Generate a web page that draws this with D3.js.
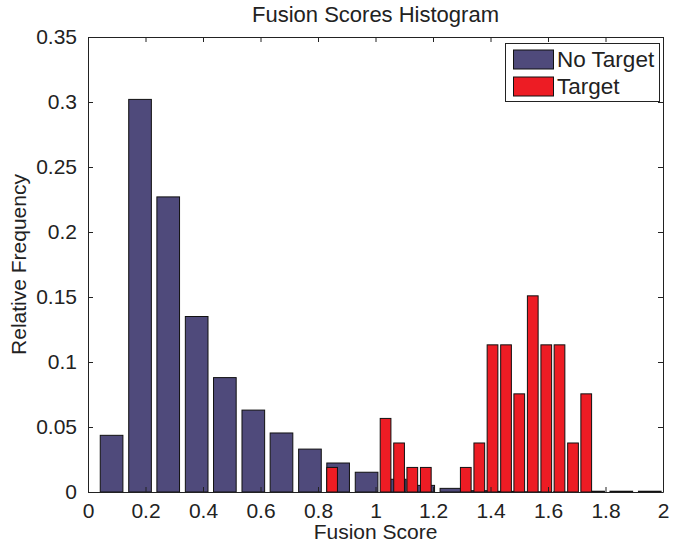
<!DOCTYPE html>
<html>
<head>
<meta charset="utf-8">
<script src="https://cdn.jsdelivr.net/npm/d3@7"></script>
<style>
body { margin: 0; background: #fff; }
text { font-family: "Liberation Sans", Arial, sans-serif; fill: #222; }
</style>
</head>
<body>
<svg id="canvas" width="694" height="548"></svg>
<script>
// bin centres + relative frequency
let noTargetCenters = [0.082, 0.181, 0.279, 0.378, 0.476, 0.575, 0.673, 0.772, 0.870, 0.969,
                       1.067, 1.166, 1.264, 1.363, 1.461, 1.560, 1.658, 1.757, 1.855, 1.954]
let noTargetValues = [0.0436, 0.302, 0.227, 0.135, 0.088, 0.063, 0.0454, 0.033, 0.0223, 0.0152,
                      0.0098, 0.0051, 0.0028, 0.0010, 0.0005, 0.0002, 0.0001, 0.0006, 0.0006, 0.0006]

let targetCenters = [0.849, 0.896, 0.942, 0.989, 1.035, 1.082, 1.128, 1.175, 1.221, 1.268,
                     1.314, 1.361, 1.407, 1.454, 1.500, 1.547, 1.594, 1.640, 1.687, 1.733]
let targetValues = [0.0189, 0, 0, 0, 0.0566, 0.0377, 0.0189, 0.0189, 0, 0,
                    0.0189, 0.0377, 0.1132, 0.1132, 0.0755, 0.1509, 0.1132, 0.1132, 0.0377, 0.0755]

let xTicks = [0, 0.2, 0.4, 0.6, 0.8, 1, 1.2, 1.4, 1.6, 1.8, 2]
let yTicks = [0, 0.05, 0.1, 0.15, 0.2, 0.25, 0.3, 0.35]
let legendLabels = ["No Target", "Target"]
let colors = ["#4f4a7b", "#ed1c24"]

let canvas = d3.select("#canvas")
let mLeft = 88, mRight = 663, mTop = 37, mBottom = 492
let fs = 21

let xScale = d3.scaleLinear().domain([0, 2]).range([mLeft, mRight])
let yScale = d3.scaleLinear().domain([0, 0.35]).range([mBottom, mTop])

let drawBars = (centers, values, binW, color) => {
    let w = binW * 0.8
    let bins = centers.map((c, i) => ({ c: c, v: values[i] })).filter(d => d.v > 0)
    canvas.append("g")
        .selectAll("rect")
        .data(bins)
        .enter()
        .append("rect")
        .attr("x", d => xScale(d.c - w / 2))
        .attr("width", d => xScale(d.c + w / 2) - xScale(d.c - w / 2))
        .attr("y", d => yScale(d.v))
        .attr("height", d => mBottom - yScale(d.v))
        .attr("fill", color)
        .attr("stroke", "#111")
        .attr("stroke-width", 1)
}

drawBars(noTargetCenters, noTargetValues, 0.0985, colors[0])
drawBars(targetCenters, targetValues, 0.0466, colors[1])

// axes (ticks inward, box)
let xAxisB = d3.axisBottom(xScale).tickValues(xTicks).tickSizeInner(-5).tickSizeOuter(0).tickPadding(11).tickFormat(d3.format("~g"))
let xAxisT = d3.axisTop(xScale).tickValues(xTicks).tickSizeInner(-5).tickSizeOuter(0).tickFormat("")
let yAxisL = d3.axisLeft(yScale).tickValues(yTicks).tickSizeInner(-5).tickSizeOuter(0).tickPadding(11).tickFormat(d3.format("~g"))
let yAxisR = d3.axisRight(yScale).tickValues(yTicks).tickSizeInner(-5).tickSizeOuter(0).tickFormat("")

let styleAxis = g => {
    g.select(".domain").attr("stroke", "#222")
    g.selectAll(".tick line").attr("stroke", "#222")
    g.selectAll(".tick text").attr("font-size", fs).attr("font-family", "Liberation Sans, Arial, sans-serif").attr("fill", "#222")
}

canvas.append("g").attr("transform", "translate(0," + mBottom + ")").call(xAxisB).call(styleAxis)
canvas.append("g").attr("transform", "translate(0," + mTop + ")").call(xAxisT).call(styleAxis)
canvas.append("g").attr("transform", "translate(" + mLeft + ",0)").call(yAxisL).call(styleAxis)
canvas.append("g").attr("transform", "translate(" + mRight + ",0)").call(yAxisR).call(styleAxis)

// titles
canvas.append("text")
    .attr("x", (mLeft + mRight) / 2).attr("y", 22)
    .attr("text-anchor", "middle").attr("font-size", 22)
    .text("Fusion Scores Histogram")

canvas.append("text")
    .attr("x", (mLeft + mRight) / 2).attr("y", 539)
    .attr("text-anchor", "middle").attr("font-size", fs)
    .text("Fusion Score")

canvas.append("text")
    .attr("transform", "translate(26," + (mTop + mBottom) / 2 + ") rotate(-90)")
    .attr("text-anchor", "middle").attr("font-size", fs)
    .text("Relative Frequency")

// legend
let legend = canvas.append("g")
legend.append("rect")
    .attr("x", 505.5).attr("y", 43.5).attr("width", 154).attr("height", 58)
    .attr("fill", "#fff").attr("stroke", "#222")

legendLabels.forEach((label, i) => {
    legend.append("rect")
        .attr("x", 513.5).attr("y", 50 + i * 27).attr("width", 40).attr("height", 19)
        .attr("fill", colors[i]).attr("stroke", "#111")
    legend.append("text")
        .attr("x", 557).attr("y", 67 + i * 27)
        .attr("font-size", 22.5)
        .text(label)
})
</script>
</body>
</html>
